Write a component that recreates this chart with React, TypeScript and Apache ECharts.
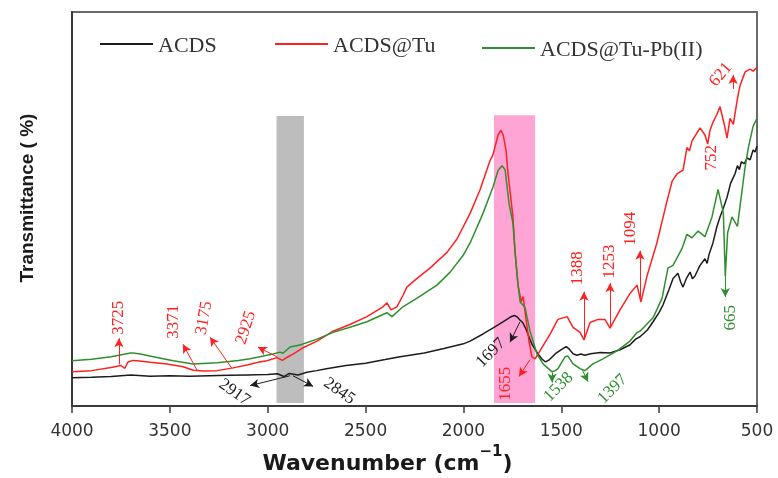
import React, { useEffect, useRef } from "react";
import * as echarts from "echarts";

const xTicks = [4000, 3500, 3000, 2500, 2000, 1500, 1000, 500];

const acds: [number, number][] = [
  [4000, 7.2], [3900, 7.3], [3800, 7.5], [3700, 7.9], [3600, 7.6], [3500, 7.7], [3400, 7.6],
  [3300, 7.7], [3200, 7.8], [3100, 7.9], [3000, 8.0], [2950, 8.2], [2917, 7.5], [2890, 8.3],
  [2845, 7.9], [2800, 8.6], [2750, 9.0], [2700, 9.5], [2600, 10.3], [2500, 10.9], [2400, 11.8],
  [2324, 12.5], [2200, 13.5], [2100, 14.6], [2000, 15.8], [1966, 16.5], [1900, 18.3], [1850, 19.8],
  [1800, 21.3], [1760, 22.6], [1740, 23.0], [1725, 22.6], [1710, 21.8], [1697, 21.2], [1680, 19.5],
  [1650, 15.7], [1620, 13.3], [1600, 12.0], [1580, 11.2], [1560, 11.8], [1530, 13.3], [1500, 14.3],
  [1475, 15.1], [1460, 14.5], [1440, 13.3], [1420, 12.9], [1400, 13.2], [1380, 12.9], [1350, 13.3],
  [1300, 13.6], [1250, 13.5], [1200, 14.3], [1150, 15.5], [1120, 17.0], [1098, 17.6], [1060, 19.3],
  [1031, 21.4], [1000, 23.8], [980, 25.7], [950, 29.5], [929, 32.4], [904, 33.7], [890, 31.5],
  [878, 30.2], [860, 32.5], [842, 34.0], [830, 32.3], [817, 33.0], [800, 34.8], [791, 35.7],
  [766, 37.4], [755, 36.2], [745, 38.5], [725, 41.4], [705, 45.5], [689, 48.0], [670, 50.5],
  [653, 53.0], [635, 56.5], [612, 59.0], [600, 61.0], [590, 60.0], [580, 62.0], [565, 61.5],
  [550, 63.0], [535, 62.5], [520, 65.0], [510, 64.5], [500, 66.0],
];

const acdsTu: [number, number][] = [
  [4000, 8.7], [3900, 9.0], [3800, 9.8], [3750, 10.3], [3730, 9.6], [3714, 11.2], [3690, 11.6],
  [3668, 11.5], [3600, 11.1], [3515, 10.7], [3432, 10.0], [3381, 9.1], [3330, 8.9], [3259, 9.0],
  [3177, 9.7], [3100, 10.5], [3050, 11.1], [3004, 11.5], [2953, 12.3], [2925, 11.6], [2900, 12.4],
  [2871, 13.2], [2820, 14.8], [2748, 16.5], [2666, 19.0], [2580, 20.7], [2493, 22.7], [2411, 25.2],
  [2391, 26.2], [2370, 24.4], [2340, 25.2], [2310, 28.0], [2289, 30.2], [2237, 32.4], [2171, 35.0],
  [2084, 39.0], [2033, 42.4], [1966, 48.9], [1915, 54.9], [1864, 62.3], [1849, 63.8], [1823, 68.8],
  [1808, 70.0], [1797, 68.8], [1782, 64.8], [1772, 58.9], [1757, 52.4], [1747, 48.0], [1736, 39.0],
  [1721, 30.7], [1705, 26.5], [1695, 27.8], [1680, 22.0], [1665, 16.5], [1650, 12.5], [1634, 12.0],
  [1609, 14.0], [1558, 18.2], [1517, 22.0], [1470, 22.7], [1440, 20.0], [1404, 18.7], [1384, 16.8],
  [1353, 21.2], [1312, 22.0], [1277, 22.0], [1251, 19.8], [1200, 24.4], [1150, 28.5], [1113, 30.7],
  [1093, 26.4], [1062, 33.0], [1011, 41.5], [960, 52.0], [934, 57.0], [909, 58.9], [878, 59.9],
  [858, 65.6], [845, 64.8], [832, 67.3], [791, 70.6], [766, 68.8], [752, 66.5], [740, 70.0],
  [725, 72.0], [705, 74.0], [689, 76.0], [665, 71.0], [653, 68.0], [638, 73.0], [621, 71.5],
  [600, 78.0], [587, 81.3], [561, 84.8], [536, 85.5], [520, 85.0], [500, 86.0],
];

const acdsTuPb: [number, number][] = [
  [4000, 11.5], [3900, 11.9], [3800, 12.5], [3700, 13.5], [3688, 13.5], [3650, 13.2], [3603, 12.7],
  [3483, 11.5], [3381, 10.7], [3259, 11.0], [3150, 11.6], [3090, 12.0], [2973, 13.2], [2937, 13.7],
  [2922, 13.4], [2886, 15.0], [2835, 15.5], [2748, 17.0], [2666, 18.7], [2580, 20.0], [2493, 21.4],
  [2391, 23.7], [2365, 22.7], [2309, 25.2], [2237, 27.4], [2135, 30.7], [2068, 34.0], [2002, 38.2],
  [1966, 41.4], [1900, 48.9], [1849, 55.6], [1823, 59.8], [1803, 61.0], [1787, 60.0], [1777, 55.6],
  [1767, 51.4], [1747, 46.4], [1736, 39.0], [1721, 30.7], [1710, 26.4], [1685, 25.0], [1660, 19.0],
  [1624, 13.2], [1593, 10.7], [1547, 8.7], [1530, 9.0], [1517, 9.5], [1481, 12.5], [1466, 12.7],
  [1440, 10.7], [1404, 9.5], [1379, 9.0], [1338, 10.7], [1287, 12.0], [1215, 14.0], [1149, 16.5],
  [1113, 18.7], [1098, 19.0], [1031, 22.4], [985, 27.4], [955, 35.0], [929, 35.7], [883, 40.0],
  [858, 43.6], [832, 42.7], [801, 44.4], [766, 43.0], [730, 48.0], [699, 55.0], [679, 50.6],
  [672, 49.0], [662, 33.0], [650, 44.0], [628, 48.0], [600, 45.6], [587, 50.6], [561, 60.6],
  [544, 65.6], [520, 71.0], [500, 73.0],
];

type Note = { text: string; at: [number, number]; rot: number; from?: [number, number]; to?: [number, number] };

const redNotes: Note[] = [
  { text: "3725", at: [3765, 22.4], rot: 90, from: [3760, 10.6], to: [3760, 17.2] },
  { text: "3371", at: [3489, 21.4], rot: 90, from: [3361, 9.1], to: [3433, 15.7] },
  { text: "3175", at: [3330, 22.4], rot: 80, from: [3183, 9.6], to: [3295, 17.5] },
  { text: "2925", at: [3116, 20.0], rot: 72, from: [2953, 12.5], to: [3050, 15.0] },
  { text: "1655", at: [1788, 5.7], rot: 90, from: [1660, 11.8], to: [1716, 7.5] },
  { text: "1388", at: [1420, 35.0], rot: 90, from: [1384, 17.0], to: [1384, 29.0] },
  { text: "1253", at: [1261, 36.7], rot: 90, from: [1251, 20.0], to: [1251, 31.2] },
  { text: "1094", at: [1149, 45.0], rot: 90, from: [1098, 27.5], to: [1098, 39.4] },
  { text: "752", at: [740, 63.0], rot: 90 },
  { text: "621", at: [689, 84.3], rot: 50, from: [622, 80.5], to: [622, 84.0] },
];

const blackNotes: Note[] = [
  { text: "2917", at: [3167, 3.7], rot: -35, from: [2886, 7.7], to: [3090, 5.2] },
  { text: "2845", at: [2631, 4.0], rot: -35, from: [2871, 7.7], to: [2768, 5.0] },
  { text: "1697", at: [1864, 13.7], rot: 45, from: [1711, 21.4], to: [1762, 16.2] },
];

const greenNotes: Note[] = [
  { text: "1538", at: [1517, 5.0], rot: 45, from: [1547, 8.5], to: [1547, 6.0] },
  { text: "1397", at: [1241, 4.5], rot: 45, from: [1394, 9.3], to: [1363, 6.2] },
  { text: "665", at: [638, 22.4], rot: 90, from: [662, 33.0], to: [662, 27.7] },
];

const BLACK = "#1c1c1c";
const RED = "#ff2020";
const GREEN = "#2f8f2f";
const SERIF = "'Liberation Serif', 'Times New Roman', serif";

function arrows(notes: Note[], color: string) {
  return {
    silent: true,
    symbol: ["none", "arrow"],
    symbolSize: [7, 9],
    label: { show: false },
    lineStyle: { color, width: 1, type: "solid", opacity: 1 },
    itemStyle: { color },
    emphasis: { disabled: true },
    data: notes
      .filter((n) => n.from && n.to)
      .map((n) => [{ coord: n.from }, { coord: n.to }]),
  };
}

function labels(name: string, notes: Note[], color: string) {
  return {
    name,
    type: "scatter",
    silent: true,
    symbol: "circle",
    symbolSize: 1,
    itemStyle: { color: "rgba(0,0,0,0)" },
    z: 5,
    label: {
      show: true,
      position: "inside",
      color,
      opacity: 1,
      textBorderWidth: 0,
      textShadowBlur: 0,
      fontFamily: SERIF,
      fontSize: 17,
    },
    data: notes.map((n) => ({
      value: n.at,
      label: { rotate: n.rot, formatter: n.text },
    })),
  };
}

const legendText = { fontFamily: SERIF, fontSize: 22, color: "#333" };

export default function App() {
  const ref = useRef<HTMLDivElement>(null);
  useEffect(() => {
    const chart = echarts.init(ref.current!, null, { renderer: "svg" });
    chart.setOption({
      animation: false,
      grid: {
        left: 72,
        right: 21,
        top: 12,
        bottom: 65,
        show: true,
        borderColor: "#6a6a6a",
        borderWidth: 2,
      },
      legend: [
        { data: ["ACDS"], left: 100, top: 33, padding: 0, icon: "rect", itemWidth: 53, itemHeight: 2, textStyle: legendText },
        { data: ["ACDS@Tu"], left: 275, top: 33, padding: 0, icon: "rect", itemWidth: 53, itemHeight: 2, textStyle: legendText },
        { data: ["ACDS@Tu-Pb(II)"], left: 482, top: 37, padding: 0, icon: "rect", itemWidth: 53, itemHeight: 2, textStyle: legendText },
      ],
      xAxis: {
        type: "value",
        min: 500,
        max: 4000,
        interval: 500,
        inverse: true,
        axisLine: { show: true, lineStyle: { color: "#3a3a3a", width: 2 } },
        axisTick: { show: true, inside: false, length: 7, lineStyle: { color: "#3a3a3a", width: 1.5 } },
        splitLine: { show: false },
        axisLabel: {
          margin: 15,
          color: "#333",
          fontFamily: "'DejaVu Sans', sans-serif",
          fontSize: 17,
          formatter: (v: number) => (xTicks.includes(v) ? String(v) : ""),
        },
        name: "{a|Wavenumber (cm}{s|−1}{a|)}",
        nameLocation: "middle",
        nameGap: 36,
        nameTextStyle: {
          padding: [0, 54, 0, 0],
          rich: {
            a: { fontFamily: "'DejaVu Sans', sans-serif", fontWeight: "bold", fontSize: 22, color: "#1a1a1a", lineHeight: 30, verticalAlign: "bottom" },
            s: { fontFamily: "'DejaVu Sans', sans-serif", fontWeight: "bold", fontSize: 15, color: "#1a1a1a", lineHeight: 30, verticalAlign: "top" },
          },
        },
      },
      yAxis: {
        type: "value",
        min: 0,
        max: 100,
        axisLine: { show: true, lineStyle: { color: "#3a3a3a", width: 2 } },
        axisTick: { show: false },
        axisLabel: { show: false },
        splitLine: { show: false },
        name: "Transmittance ( %)",
        nameLocation: "middle",
        nameGap: 36,
        nameTextStyle: {
          fontFamily: "'Liberation Sans', Arial, sans-serif",
          fontWeight: "bold",
          fontSize: 19,
          color: "#1a1a1a",
          padding: [0, 0, 0, 22],
        },
      },
      series: [
        {
          name: "ACDS",
          type: "line",
          data: acds,
          showSymbol: false,
          color: BLACK,
          lineStyle: { color: BLACK, width: 1.5 },
          z: 3,
          markArea: {
            silent: true,
            data: [
              [{ coord: [2955, 73.6], itemStyle: { color: "#bdbdbd", opacity: 1 } }, { coord: [2815, 0.8] }],
              [{ coord: [1844, 73.8], itemStyle: { color: "#ffa5d6", opacity: 1 } }, { coord: [1634, 0.8] }],
            ],
          },
          markLine: arrows(blackNotes, BLACK),
        },
        {
          name: "ACDS@Tu",
          type: "line",
          data: acdsTu,
          showSymbol: false,
          color: RED,
          lineStyle: { color: RED, width: 1.5 },
          z: 3,
          markLine: arrows(redNotes, RED),
        },
        {
          name: "ACDS@Tu-Pb(II)",
          type: "line",
          data: acdsTuPb,
          showSymbol: false,
          color: GREEN,
          lineStyle: { color: GREEN, width: 1.5 },
          z: 3,
          markLine: arrows(greenNotes, GREEN),
        },
        labels("redLabels", redNotes, RED),
        labels("blackLabels", blackNotes, "#222"),
        labels("greenLabels", greenNotes, GREEN),
      ],
    });
    return () => chart.dispose();
  }, []);
  return <div ref={ref} style={{ position: "fixed", left: 0, top: 0, width: 778, height: 478 }} />;
}
